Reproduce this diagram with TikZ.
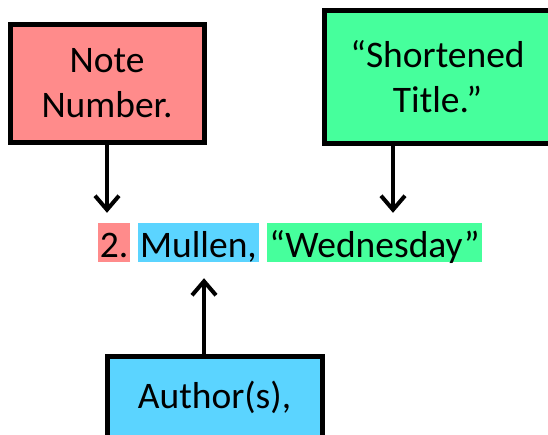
\documentclass[tikz,border=0pt]{standalone}
\usepackage{fontspec}
\setmainfont{Carlito}
\usetikzlibrary{arrows.meta,shadows}
\definecolor{cpink}{RGB}{255,139,139}
\definecolor{cgreen}{RGB}{70,255,156}
\definecolor{cblue}{RGB}{91,212,255}
\tikzset{
  bigtext/.style={font=\fontsize{37.5}{45}\selectfont},
  labelbox/.style={bigtext, draw=black, line width=5pt, align=center, inner sep=0pt,
    drop shadow={shadow xshift=3pt, shadow yshift=-3pt, opacity=0.35, fill=black!60}},
  hl/.style={bigtext, inner xsep=2pt, inner ysep=0pt, text height=34pt, text depth=5pt, anchor=base},
  arr/.style={line width=4pt, -{Straight Barb[length=14pt,width=24pt,line width=4pt]}}
}
\begin{document}
\begin{tikzpicture}[x=1pt,y=-1pt]
\useasboundingbox (0,0) rectangle (548,434);
% boxes
\node[labelbox, fill=cpink, minimum width=194pt, minimum height=118pt] (note) at (107,83) {Note\\Number.};
\node[labelbox, fill=cgreen, minimum width=227pt, minimum height=133pt] (ttl) at (437.5,76.5) {“Shortened\\Title.”};
\node[labelbox, fill=cblue, minimum width=215pt, minimum height=82pt] (auth) at (214.5,397) {Author(s),};
% highlighted citation
\node[hl, fill=cpink] (two) at (114,257) {2.};
\node[hl, fill=cblue] (mul) at (198.5,257) {Mullen,};
\node[hl, fill=cgreen] (wed) at (374.5,257) {“Wednesday”};
% arrows
\draw[arr, shorten >=10pt] (note.south) -- (note.south |- two.north);
\draw[arr, shorten >=10pt] ([xshift=-44.5pt]ttl.south) -- ([xshift=-44.5pt]ttl.south |- wed.north);
\draw[arr, shorten >=16pt] ([xshift=-10.5pt]auth.north) -- ([xshift=-10.5pt]auth.north |- mul.south);
\end{tikzpicture}
\end{document}
